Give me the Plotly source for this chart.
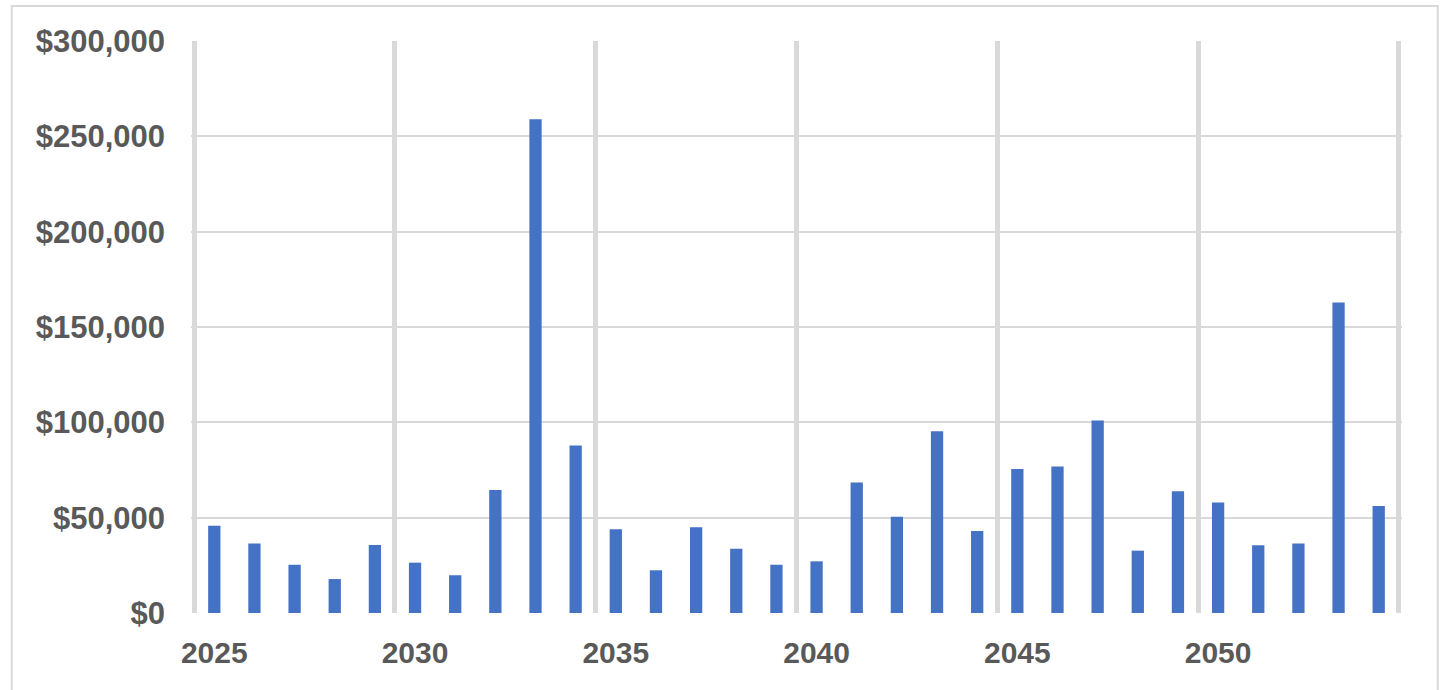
import plotly.graph_objects as go

# Annual amounts, 2025-2054
years = list(range(2025, 2055))
amounts = [
    45800, 36500, 25300, 17800, 35700,
    26400, 19800, 64500, 259000, 87800,
    43900, 22400, 45000, 33700, 25300,
    27100, 68400, 50500, 95300, 43000,
    75500, 76800, 100900, 32700, 63800,
    57900, 35500, 36400, 162800, 56100,
]

# Labelled years and the group boundaries between every fifth year
label_years = [2025, 2030, 2035, 2040, 2045, 2050]
label_text = [str(y) for y in label_years]
group_edges = [2024.5, 2029.5, 2034.5, 2039.5, 2044.5, 2049.5, 2054.5]

y_ticks = [0, 50000, 100000, 150000, 200000, 250000, 300000]
y_text = ["$0", "$50,000", "$100,000", "$150,000", "$200,000", "$250,000", "$300,000"]

BAR = "#4472C4"
GRID = "#d9d9d9"
TEXT = "#595959"
FONT = "Liberation Sans, Arial, sans-serif"

W, H = 1443, 690
# a small pad on each side keeps the outermost group edges inside the range
PAD = 0.08
UNIT = 40.15  # pixels per year
ML = 194.5 - PAD * UNIT
MR = W - (1399 + PAD * UNIT)
MT, MB = 41, 77
xr = [2024.5 - PAD, 2054.5 + PAD]

fig = go.Figure()

fig.add_trace(go.Bar(
    x=years, y=amounts,
    marker=dict(color=BAR, line=dict(width=0)),
    showlegend=False,
))

# Invisible companion trace carrying the year labels axis
fig.add_trace(go.Scatter(
    x=years, y=amounts, xaxis="x2", mode="none",
    showlegend=False, hoverinfo="skip",
))

fig.update_layout(
    width=W, height=H,
    margin=dict(l=ML, r=MR, t=MT, b=MB, pad=0),
    paper_bgcolor="white",
    plot_bgcolor="white",
    bargap=0.694,
    font=dict(family=FONT, color=TEXT),
    xaxis=dict(
        range=xr,
        tickmode="array",
        tickvals=group_edges,
        showticklabels=False,
        showgrid=True, gridcolor=GRID, gridwidth=5,
        zeroline=False, showline=False, ticks="",
        fixedrange=True,
    ),
    xaxis2=dict(
        overlaying="x",
        side="bottom",
        anchor="y",
        range=xr,
        tickmode="array",
        tickvals=label_years,
        ticktext=label_text,
        showgrid=False, zeroline=False, showline=False, ticks="",
        tickfont=dict(family=FONT, size=30, color=TEXT, weight="bold"),
        ticklabelstandoff=19,
        fixedrange=True,
    ),
    yaxis=dict(
        range=[0, 300000],
        tickmode="array",
        tickvals=y_ticks,
        ticktext=y_text,
        showgrid=True, gridcolor=GRID, gridwidth=1.5,
        zeroline=False, showline=False, ticks="",
        tickfont=dict(family=FONT, size=31, color=TEXT, weight="bold"),
        ticklabelstandoff=25,
        fixedrange=True,
    ),
)

# Outer chart frame
pw = W - ML - MR
ph = H - MT - MB
fig.add_shape(
    type="rect", xref="paper", yref="paper",
    x0=(12 - ML) / pw, x1=(1438 - ML) / pw,
    y0=(H - MB - 720) / ph, y1=(H - MB - 6) / ph,
    line=dict(color=GRID, width=2),
    fillcolor="rgba(0,0,0,0)",
    layer="below",
)

fig.write_html("out.html")
